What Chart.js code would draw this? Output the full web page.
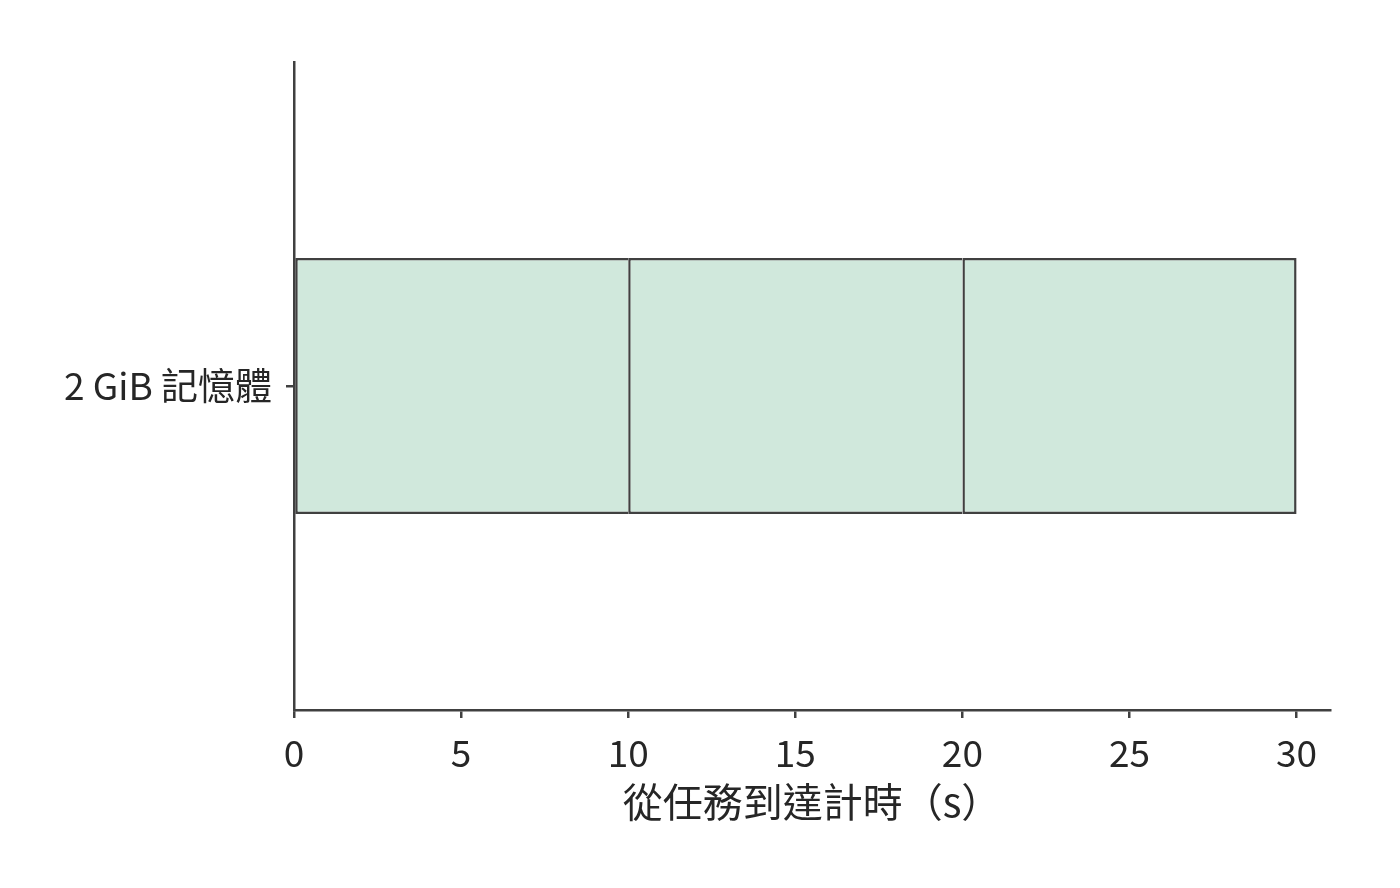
<!DOCTYPE html>
<html>
<head>
<meta charset="utf-8">
<script src="https://cdn.jsdelivr.net/npm/chart.js@4"></script>
<style>
  html, body { margin: 0; padding: 0; background: #fff; }
  #wrap { width: 1400px; height: 888px; }
</style>
</head>
<body>
<div id="wrap"><canvas id="chart" width="1400" height="888"></canvas></div>
<script>
const categories = ['2 GiB 記憶體'];
const segmentA = [10];
const segmentB = [10];
const segmentC = [10];
const xTicks = [0, 5, 10, 15, 20, 25, 30];
const xTitle = '從任務到達計時（s）';

const ink = '#404040';
const fill = '#d0e8dc';

Chart.defaults.font.family = '"Noto Sans CJK TC", "Noto Sans", sans-serif';
Chart.defaults.color = '#262626';

// inset borders: skip the right edge on inner segments so boundaries stay single lines
const seg = (data, last) => ({
  data, backgroundColor: fill, borderColor: ink,
  borderWidth: last ? 2.5 : { top: 2.5, bottom: 2.5, left: 2.5, right: 0 },
  borderSkipped: false, barPercentage: 0.395, categoryPercentage: 1
});

new Chart(document.getElementById('chart'), {
  type: 'bar',
  data: { labels: categories, datasets: [seg(segmentA), seg(segmentB), seg(segmentC, true)] },
  options: {
    indexAxis: 'y',
    responsive: false,
    animation: false,
    layout: { padding: { top: 62, right: 70, left: 0, bottom: 0 } },
    plugins: { legend: { display: false }, tooltip: { enabled: false } },
    scales: {
      x: {
        stacked: true, min: 0, max: 31,
        afterFit: s => { s.height = 178; },
        afterBuildTicks: s => { s.ticks = xTicks.map(v => ({ value: v })); },
        ticks: { font: { size: 37 }, padding: 13, includeBounds: false },
        grid: { drawOnChartArea: false, tickLength: 8, color: ink, lineWidth: 2.5 },
        border: { color: ink, width: 2.5 },
        title: { display: true, text: xTitle, font: { size: 40 }, padding: { top: 62, bottom: 62 } }
      },
      y: {
        stacked: true,
        afterFit: s => { s.width = 294; },
        ticks: { font: { size: 37 }, padding: 14 },
        grid: { drawOnChartArea: false, offset: false, tickLength: 8, color: ink, lineWidth: 2.5 },
        border: { color: ink, width: 2.5 }
      }
    }
  }
});
</script>
</body>
</html>
